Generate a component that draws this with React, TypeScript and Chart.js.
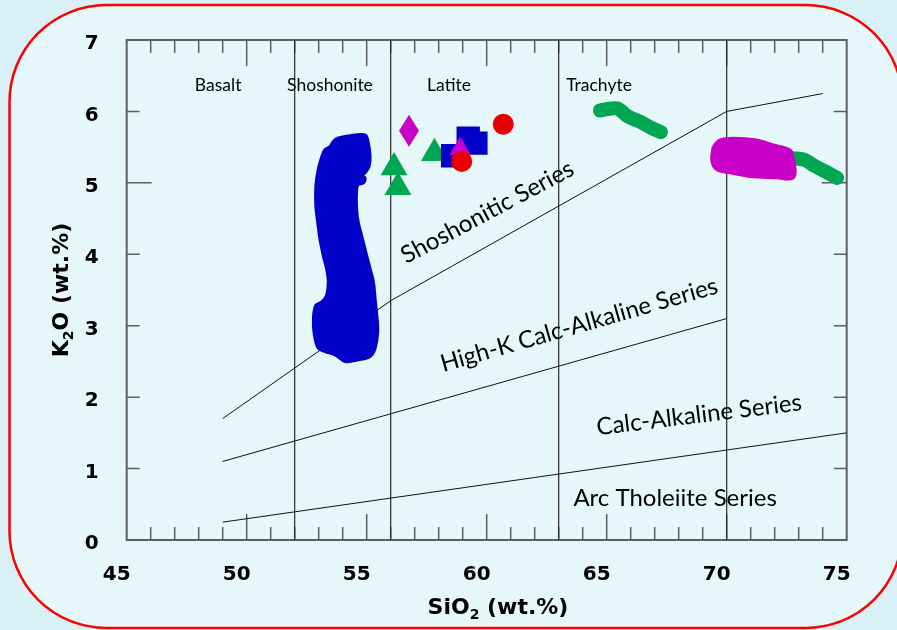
import React, { useEffect, useRef } from 'react';
import { Chart, registerables } from 'chart.js';

Chart.register(...registerables);

// ---------- axes ----------
const X_MIN = 45;
const X_MAX = 75;
const Y_MIN = 0;
const Y_MAX = 7;
const xTickValues = [45, 50, 55, 60, 65, 70, 75];
const yTickValues = [0, 1, 2, 3, 4, 5, 6, 7];

// ---------- rock-name fields (vertical boundaries, SiO2) ----------
const fieldBoundariesSiO2 = [52, 56, 63, 70];
const fieldNames = ['Basalt', 'Shoshonite', 'Latite', 'Trachyte'];
const fieldLabelSiO2 = [48.81, 53.47, 58.43, 64.68];
const fieldLabelK2O = [6.36, 6.36, 6.36, 6.36];

// ---------- series boundary lines ----------
const shoshoniticLineSiO2 = [49, 56, 70, 74];
const shoshoniticLineK2O = [1.7, 3.35, 6.0, 6.25];
const highKLineSiO2 = [49, 70];
const highKLineK2O = [1.1, 3.1];
const calcAlkLineSiO2 = [49, 75];
const calcAlkLineK2O = [0.25, 1.5];

// ---------- series labels ----------
const seriesNames = ['Shoshonitic Series', 'High-K Calc-Alkaline Series', 'Calc-Alkaline Series', 'Arc Tholeiite Series'];
const seriesLabelSiO2 = [60.03, 63.85, 68.85, 67.85];
const seriesLabelK2O = [4.59, 3.01, 1.75, 0.583];
const seriesLabelAngle = [-28, -16, -7, 0];

// ---------- sample fields (outlines) ----------
const blueFieldSiO2 = [53.75, 54.23, 54.93, 55.07, 55.14, 55.10, 54.93, 54.79, 54.93, 54.86, 54.65, 54.58, 54.58, 54.65, 54.79, 54.93, 55.07, 55.28, 55.35, 55.42, 55.46, 55.35, 55.14, 54.65, 54.10, 53.68, 53.26, 52.98, 52.82, 52.78, 52.88, 53.13, 53.33, 53.40, 53.33, 53.19, 53.05, 52.96, 52.88, 52.88, 52.98, 53.13, 53.26, 53.47, 53.61];
const blueFieldK2O = [5.625, 5.657, 5.671, 5.556, 5.371, 5.232, 5.139, 5.115, 5.069, 5.0, 4.977, 4.907, 4.63, 4.444, 4.259, 4.074, 3.889, 3.611, 3.38, 3.148, 2.917, 2.685, 2.569, 2.523, 2.5, 2.593, 2.639, 2.685, 2.87, 3.102, 3.287, 3.333, 3.426, 3.611, 3.796, 3.982, 4.213, 4.444, 4.676, 4.954, 5.185, 5.371, 5.463, 5.509, 5.579];

const magentaFieldSiO2 = [69.44, 69.72, 70.28, 71.25, 71.94, 72.64, 72.78, 72.85, 72.71, 72.08, 70.97, 70.14, 69.58, 69.375];
const magentaFieldK2O = [5.51, 5.6, 5.625, 5.6, 5.53, 5.46, 5.32, 5.14, 5.06, 5.07, 5.09, 5.14, 5.185, 5.32];

const greenTrendASiO2 = [64.72, 65.43, 65.88, 66.43, 66.8, 67.26];
const greenTrendAK2O = [6.014, 6.042, 5.93, 5.85, 5.78, 5.71];
const greenTrendBSiO2 = [72.72, 73.26, 73.64, 74.05, 74.6];
const greenTrendBK2O = [5.347, 5.32, 5.24, 5.17, 5.07];

// ---------- individual samples ----------
const greenTriangleSiO2 = [56.14, 56.3, 57.82];
const greenTriangleK2O = [5.215, 4.94, 5.415];
const blueSquareSiO2 = [59.23, 59.55, 58.58];
const blueSquareK2O = [5.625, 5.556, 5.379];
const magentaTriangleSiO2 = [58.89];
const magentaTriangleK2O = [5.475];
const redCircleSiO2 = [60.69, 58.96];
const redCircleK2O = [5.82, 5.3];
const magentaDiamondSiO2 = [56.76];
const magentaDiamondK2O = [5.73];

const toXY = (xs: number[], ys: number[]) => xs.map((x, i) => ({ x, y: ys[i] }));
const closed = (xs: number[], ys: number[]) => {
  const pts = toXY(xs, ys);
  pts.push({ ...pts[0] });
  return pts;
};

const BLUE = '#0000c8';
const MAGENTA = '#c800c8';
const GREEN = '#00a651';
const RED = '#e80000';

function makeDiamond(w: number, h: number, color: string) {
  const c = document.createElement('canvas');
  c.width = w;
  c.height = h;
  const g = c.getContext('2d')!;
  g.fillStyle = color;
  g.beginPath();
  g.moveTo(w / 2, 0);
  g.lineTo(w, h / 2);
  g.lineTo(w / 2, h);
  g.lineTo(0, h / 2);
  g.closePath();
  g.fill();
  return c;
}

function drawMixed(ctx: CanvasRenderingContext2D, parts: { t: string; sub?: boolean }[], cx: number, cy: number, angle: number, size: number, family: string) {
  ctx.save();
  ctx.translate(cx, cy);
  ctx.rotate((angle * Math.PI) / 180);
  ctx.fillStyle = '#000';
  ctx.textBaseline = 'alphabetic';
  ctx.textAlign = 'left';
  const subSize = Math.round(size * 0.62);
  const widths = parts.map(p => {
    ctx.font = `bold ${p.sub ? subSize : size}px ${family}`;
    return ctx.measureText(p.t).width;
  });
  const total = widths.reduce((a, b) => a + b, 0);
  let x = -total / 2;
  const base = size * 0.36;
  parts.forEach((p, i) => {
    ctx.font = `bold ${p.sub ? subSize : size}px ${family}`;
    ctx.fillText(p.t, x, p.sub ? base + size * 0.22 : base);
    x += widths[i];
  });
  ctx.restore();
}

const backgroundPlugin = {
  id: 'bgFrame',
  beforeDraw(chart: any) {
    const { ctx, width, height } = chart;
    ctx.save();
    ctx.fillStyle = '#d9f1f6';
    ctx.fillRect(0, 0, width, height);
    const x = 9.5, y = 5, w = 893, h = 623, r = 97;
    ctx.beginPath();
    ctx.moveTo(x + r, y);
    ctx.lineTo(x + w - r, y);
    ctx.arcTo(x + w, y, x + w, y + r, r);
    ctx.lineTo(x + w, y + h - r);
    ctx.arcTo(x + w, y + h, x + w - r, y + h, r);
    ctx.lineTo(x + r, y + h);
    ctx.arcTo(x, y + h, x, y + h - r, r);
    ctx.lineTo(x, y + r);
    ctx.arcTo(x, y, x + r, y, r);
    ctx.closePath();
    ctx.fillStyle = '#e6f7f9';
    ctx.fill();
    ctx.strokeStyle = '#ff0000';
    ctx.lineWidth = 2.5;
    ctx.stroke();
    ctx.restore();
  },
};

const framePlugin = {
  id: 'plotFrame',
  beforeDatasetsDraw(chart: any) {
    const { ctx, chartArea, scales } = chart;
    const { left, right, top, bottom } = chartArea;
    const xs = scales.x;
    const ys = scales.y;
    ctx.save();
    ctx.strokeStyle = '#5e5e5e';
    ctx.lineWidth = 1.5;
    ctx.beginPath();
    for (let v = X_MIN + 1; v < X_MAX; v++) {
      const px = xs.getPixelForValue(v);
      const len = v % 5 === 0 ? 26 : 13;
      ctx.moveTo(px, bottom);
      ctx.lineTo(px, bottom - len);
      ctx.moveTo(px, top);
      ctx.lineTo(px, top + len);
    }
    for (let v = Y_MIN + 1; v < Y_MAX; v++) {
      const py = ys.getPixelForValue(v);
      const len = v % 5 === 0 ? 25 : 13;
      ctx.moveTo(left, py);
      ctx.lineTo(left + len, py);
      ctx.moveTo(right, py);
      ctx.lineTo(right - len, py);
    }
    ctx.stroke();
    ctx.lineWidth = 2;
    ctx.strokeRect(left, top, right - left, bottom - top);
    ctx.restore();
  },
};

const labelPlugin = {
  id: 'labels',
  afterDatasetsDraw(chart: any) {
    const { ctx, scales } = chart;
    const xs = scales.x;
    const ys = scales.y;
    ctx.save();
    ctx.fillStyle = '#000';
    ctx.textAlign = 'center';
    ctx.textBaseline = 'middle';
    ctx.font = '17.5px Lato';
    fieldNames.forEach((n, i) => {
      ctx.fillText(n, xs.getPixelForValue(fieldLabelSiO2[i]), ys.getPixelForValue(fieldLabelK2O[i]));
    });
    ctx.font = '24px Lato';
    seriesNames.forEach((n, i) => {
      ctx.save();
      ctx.translate(xs.getPixelForValue(seriesLabelSiO2[i]), ys.getPixelForValue(seriesLabelK2O[i]));
      ctx.rotate((seriesLabelAngle[i] * Math.PI) / 180);
      ctx.fillText(n, 0, 0);
      ctx.restore();
    });
    ctx.restore();
  },
  afterDraw(chart: any) {
    const { ctx } = chart;
    drawMixed(ctx, [{ t: 'SiO' }, { t: '2', sub: true }, { t: ' (wt.%)' }], 498, 606, 0, 22, '"DejaVu Sans"');
    drawMixed(ctx, [{ t: 'K' }, { t: '2', sub: true }, { t: 'O (wt.%)' }], 60, 290, -90, 22, '"DejaVu Sans"');
  },
};

export default function App() {
  const ref = useRef<HTMLCanvasElement>(null);

  useEffect(() => {
    document.body.style.margin = '0';
    const canvas = ref.current!;
    const lineBase = { showLine: true, pointRadius: 0, fill: false, borderColor: '#111', borderWidth: 1, order: 20 };
    const datasets: any[] = [];

    fieldBoundariesSiO2.forEach(v => {
      datasets.push({ ...lineBase, borderColor: '#2a2a2a', borderWidth: 1.2, data: [{ x: v, y: Y_MIN }, { x: v, y: Y_MAX }] });
    });
    datasets.push({ ...lineBase, data: toXY(shoshoniticLineSiO2, shoshoniticLineK2O) });
    datasets.push({ ...lineBase, data: toXY(highKLineSiO2, highKLineK2O) });
    datasets.push({ ...lineBase, data: toXY(calcAlkLineSiO2, calcAlkLineK2O) });

    const blob = (color: string, order: number) => ({
      showLine: true, pointRadius: 0, fill: 'shape', backgroundColor: color, borderColor: color,
      borderWidth: 3, borderJoinStyle: 'round', tension: 0.35, order,
    });
    datasets.push({ ...blob(BLUE, 8), data: closed(blueFieldSiO2, blueFieldK2O) });
    const streak = { showLine: true, pointRadius: 0, fill: false, borderColor: GREEN, borderWidth: 14, borderCapStyle: 'round', borderJoinStyle: 'round', tension: 0.3, order: 9 };
    datasets.push({ ...streak, data: toXY(greenTrendASiO2, greenTrendAK2O) });
    datasets.push({ ...streak, data: toXY(greenTrendBSiO2, greenTrendBK2O) });
    datasets.push({ ...blob(MAGENTA, 7), data: closed(magentaFieldSiO2, magentaFieldK2O) });

    const pts = { showLine: false, pointBorderWidth: 0, borderWidth: 0 };
    datasets.push({ ...pts, order: 5, data: toXY(greenTriangleSiO2, greenTriangleK2O), pointStyle: 'triangle', pointRadius: 15.5, backgroundColor: GREEN });
    datasets.push({ ...pts, order: 4, data: toXY(blueSquareSiO2, blueSquareK2O), pointStyle: 'rect', pointRadius: 16.5, backgroundColor: BLUE });
    datasets.push({ ...pts, order: 3, data: toXY(magentaTriangleSiO2, magentaTriangleK2O), pointStyle: 'triangle', pointRadius: 12.5, backgroundColor: MAGENTA });
    datasets.push({ ...pts, order: 2, data: toXY(redCircleSiO2, redCircleK2O), pointStyle: 'circle', pointRadius: 10.5, backgroundColor: RED });
    datasets.push({ ...pts, order: 1, data: toXY(magentaDiamondSiO2, magentaDiamondK2O), pointStyle: makeDiamond(20, 32, MAGENTA), pointRadius: 16, backgroundColor: MAGENTA });

    const tickFont = { family: '"DejaVu Sans"', weight: 'bold' as const, size: 20 };
    const chart = new Chart(canvas, {
      type: 'scatter',
      data: { datasets },
      plugins: [backgroundPlugin, framePlugin, labelPlugin],
      options: {
        animation: false,
        responsive: false,
        devicePixelRatio: 1,
        events: [],
        layout: { padding: { top: 36.7, right: 50.3, left: 0, bottom: 0 } },
        plugins: { legend: { display: false }, tooltip: { enabled: false } },
        scales: {
          x: {
            type: 'linear', min: X_MIN, max: X_MAX,
            afterFit: (s: any) => { s.height = 90; },
            afterBuildTicks: (s: any) => { s.ticks = xTickValues.map(v => ({ value: v })); },
            grid: { display: false, drawTicks: false },
            border: { display: false },
            ticks: { labelOffset: -10, padding: 23, font: tickFont, color: '#000', maxRotation: 0, autoSkip: false },
          },
          y: {
            type: 'linear', min: Y_MIN, max: Y_MAX,
            afterFit: (s: any) => { s.width = 126.7; },
            afterBuildTicks: (s: any) => { s.ticks = yTickValues.map(v => ({ value: v })); },
            grid: { display: false, drawTicks: false },
            border: { display: false },
            ticks: { labelOffset: 4, padding: 28, font: tickFont, color: '#000', autoSkip: false },
          },
        },
      } as any,
    });
    return () => chart.destroy();
  }, []);

  return (
    <div style={{ width: 897, height: 630, overflow: 'hidden' }}>
      <canvas ref={ref} width={897} height={630} style={{ display: 'block' }} />
    </div>
  );
}
